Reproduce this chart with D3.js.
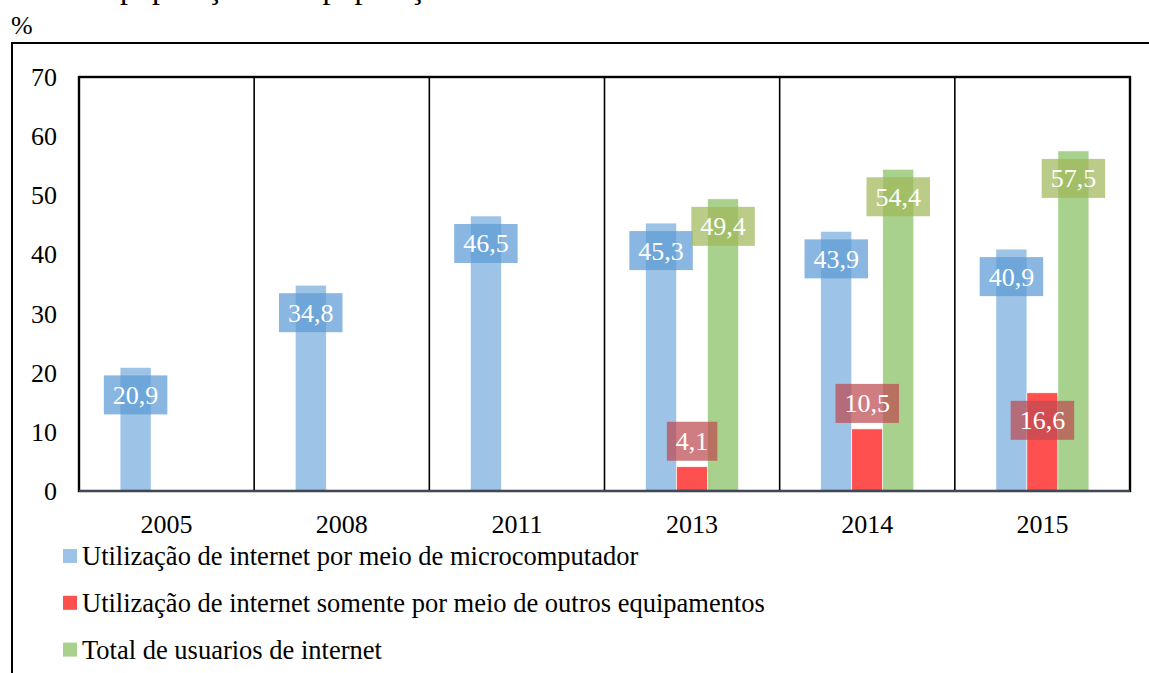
<!DOCTYPE html>
<html lang="pt">
<head>
<meta charset="UTF-8">
<title>Utilização de internet</title>
<script src="https://cdn.jsdelivr.net/npm/d3@7"></script>
<style>
  body { margin: 0; background: #fff; }
  svg text { font-family: "Liberation Serif", "Times New Roman", serif; }
</style>
</head>
<body>
<script>
  const years = ["2005", "2008", "2011", "2013", "2014", "2015"];
  const microcomputador = [20.9, 34.8, 46.5, 45.3, 43.9, 40.9];
  const outrosEquip = [null, null, null, 4.1, 10.5, 16.6];
  const totalUsuarios = [null, null, null, 49.4, 54.4, 57.5];
  const yTicks = [0, 10, 20, 30, 40, 50, 60, 70];
  const seriesNames = [
    "Utilização de internet por meio de microcomputador",
    "Utilização de internet somente por meio de outros equipamentos",
    "Total de usuarios de internet"
  ];

  const W = 1149, H = 673;
  const plot = { left: 79, right: 1130, top: 77, bottom: 491 };

  const barColors = ["#9dc3e6", "#ff5050", "#a9d18e"];
  const boxColors = ["rgb(91,155,213)", "rgb(190,75,80)", "rgb(160,185,90)"];

  const svg = d3.select("body").append("svg")
    .attr("width", W).attr("height", H);

  // title, cut off at the top edge like in the source (only descenders show)
  svg.append("text")
    .attr("x", 120).attr("y", -2)
    .attr("font-size", 32)
    .text("população com população");

  svg.append("text")
    .attr("x", 11).attr("y", 34)
    .attr("font-size", 26)
    .text("%");

  // outer frame (left and top edges)
  svg.append("path")
    .attr("d", `M12,${H} L12,43 L${W},43`)
    .attr("fill", "none").attr("stroke", "#000").attr("stroke-width", 2);

  const x = d3.scaleBand()
    .domain(years)
    .range([plot.left, plot.right])
    .padding(0);

  const half = 46.5;
  const xSub = d3.scaleBand()
    .domain([0, 1, 2])
    .range([x.bandwidth() / 2 - half, x.bandwidth() / 2 + half])
    .padding(0);

  const y = d3.scaleLinear()
    .domain([0, 70])
    .range([plot.bottom, plot.top]);

  // category separators
  svg.append("g").selectAll("line")
    .data(years.slice(1))
    .join("line")
    .attr("x1", d => x(d)).attr("x2", d => x(d))
    .attr("y1", plot.top).attr("y2", plot.bottom)
    .attr("stroke", "#000").attr("stroke-width", 1.6);

  const series = [microcomputador, outrosEquip, totalUsuarios];
  const rows = [];
  series.forEach((vals, s) => {
    vals.forEach((v, i) => {
      if (v != null) rows.push({ s, year: years[i], v });
    });
  });

  svg.append("g").selectAll("rect")
    .data(rows)
    .join("rect")
    .attr("x", d => x(d.year) + xSub(d.s))
    .attr("width", xSub.bandwidth())
    .attr("y", d => y(d.v))
    .attr("height", d => y(0) - y(d.v))
    .attr("fill", d => barColors[d.s])
    .attr("stroke", "#fff").attr("stroke-width", 0.6);

  // plot box
  svg.append("rect")
    .attr("x", plot.left).attr("y", plot.top)
    .attr("width", plot.right - plot.left)
    .attr("height", plot.bottom - plot.top)
    .attr("fill", "none").attr("stroke", "#000").attr("stroke-width", 2.4);

  svg.append("line")
    .attr("x1", plot.left).attr("x2", plot.right)
    .attr("y1", plot.bottom).attr("y2", plot.bottom)
    .attr("stroke", "#3e4858").attr("stroke-width", 2);

  // data labels
  const fmt = v => String(v).replace(".", ",");
  const lab = svg.append("g").selectAll("g")
    .data(rows)
    .join("g");

  lab.each(function (d) {
    const g = d3.select(this);
    const cx = x(d.year) + xSub(d.s) + xSub.bandwidth() / 2;
    const barPx = y(0) - y(d.v);
    const boxH = 39;
    const top = barPx < 80 ? y(d.v) - 6 - boxH : y(d.v) + 8;
    const rect = g.append("rect");
    const t = g.append("text")
      .attr("x", cx).attr("y", top + boxH / 2 + 9)
      .attr("text-anchor", "middle")
      .attr("font-size", 26)
      .attr("fill", "#fff")
      .text(fmt(d.v));
    const tw = t.node().getComputedTextLength() + 18;
    rect.attr("x", cx - tw / 2).attr("y", top)
      .attr("width", tw).attr("height", boxH)
      .attr("fill", boxColors[d.s]).attr("fill-opacity", 0.72);
  });

  // y axis labels
  svg.append("g").selectAll("text")
    .data(yTicks)
    .join("text")
    .attr("x", 57).attr("y", d => y(d) + 9)
    .attr("text-anchor", "end")
    .attr("font-size", 26)
    .text(d => d);

  // x axis labels
  svg.append("g").selectAll("text")
    .data(years)
    .join("text")
    .attr("x", d => x(d) + x.bandwidth() / 2)
    .attr("y", 533)
    .attr("text-anchor", "middle")
    .attr("font-size", 26)
    .text(d => d);

  // legend
  const leg = svg.append("g").selectAll("g")
    .data(seriesNames)
    .join("g")
    .attr("transform", (d, i) => `translate(63, ${549 + i * 46.8})`);
  leg.append("rect")
    .attr("width", 14).attr("height", 14)
    .attr("fill", (d, i) => barColors[i]);
  leg.append("text")
    .attr("x", 19).attr("y", 16)
    .attr("font-size", 26.5)
    .text(d => d);
</script>
</body>
</html>
